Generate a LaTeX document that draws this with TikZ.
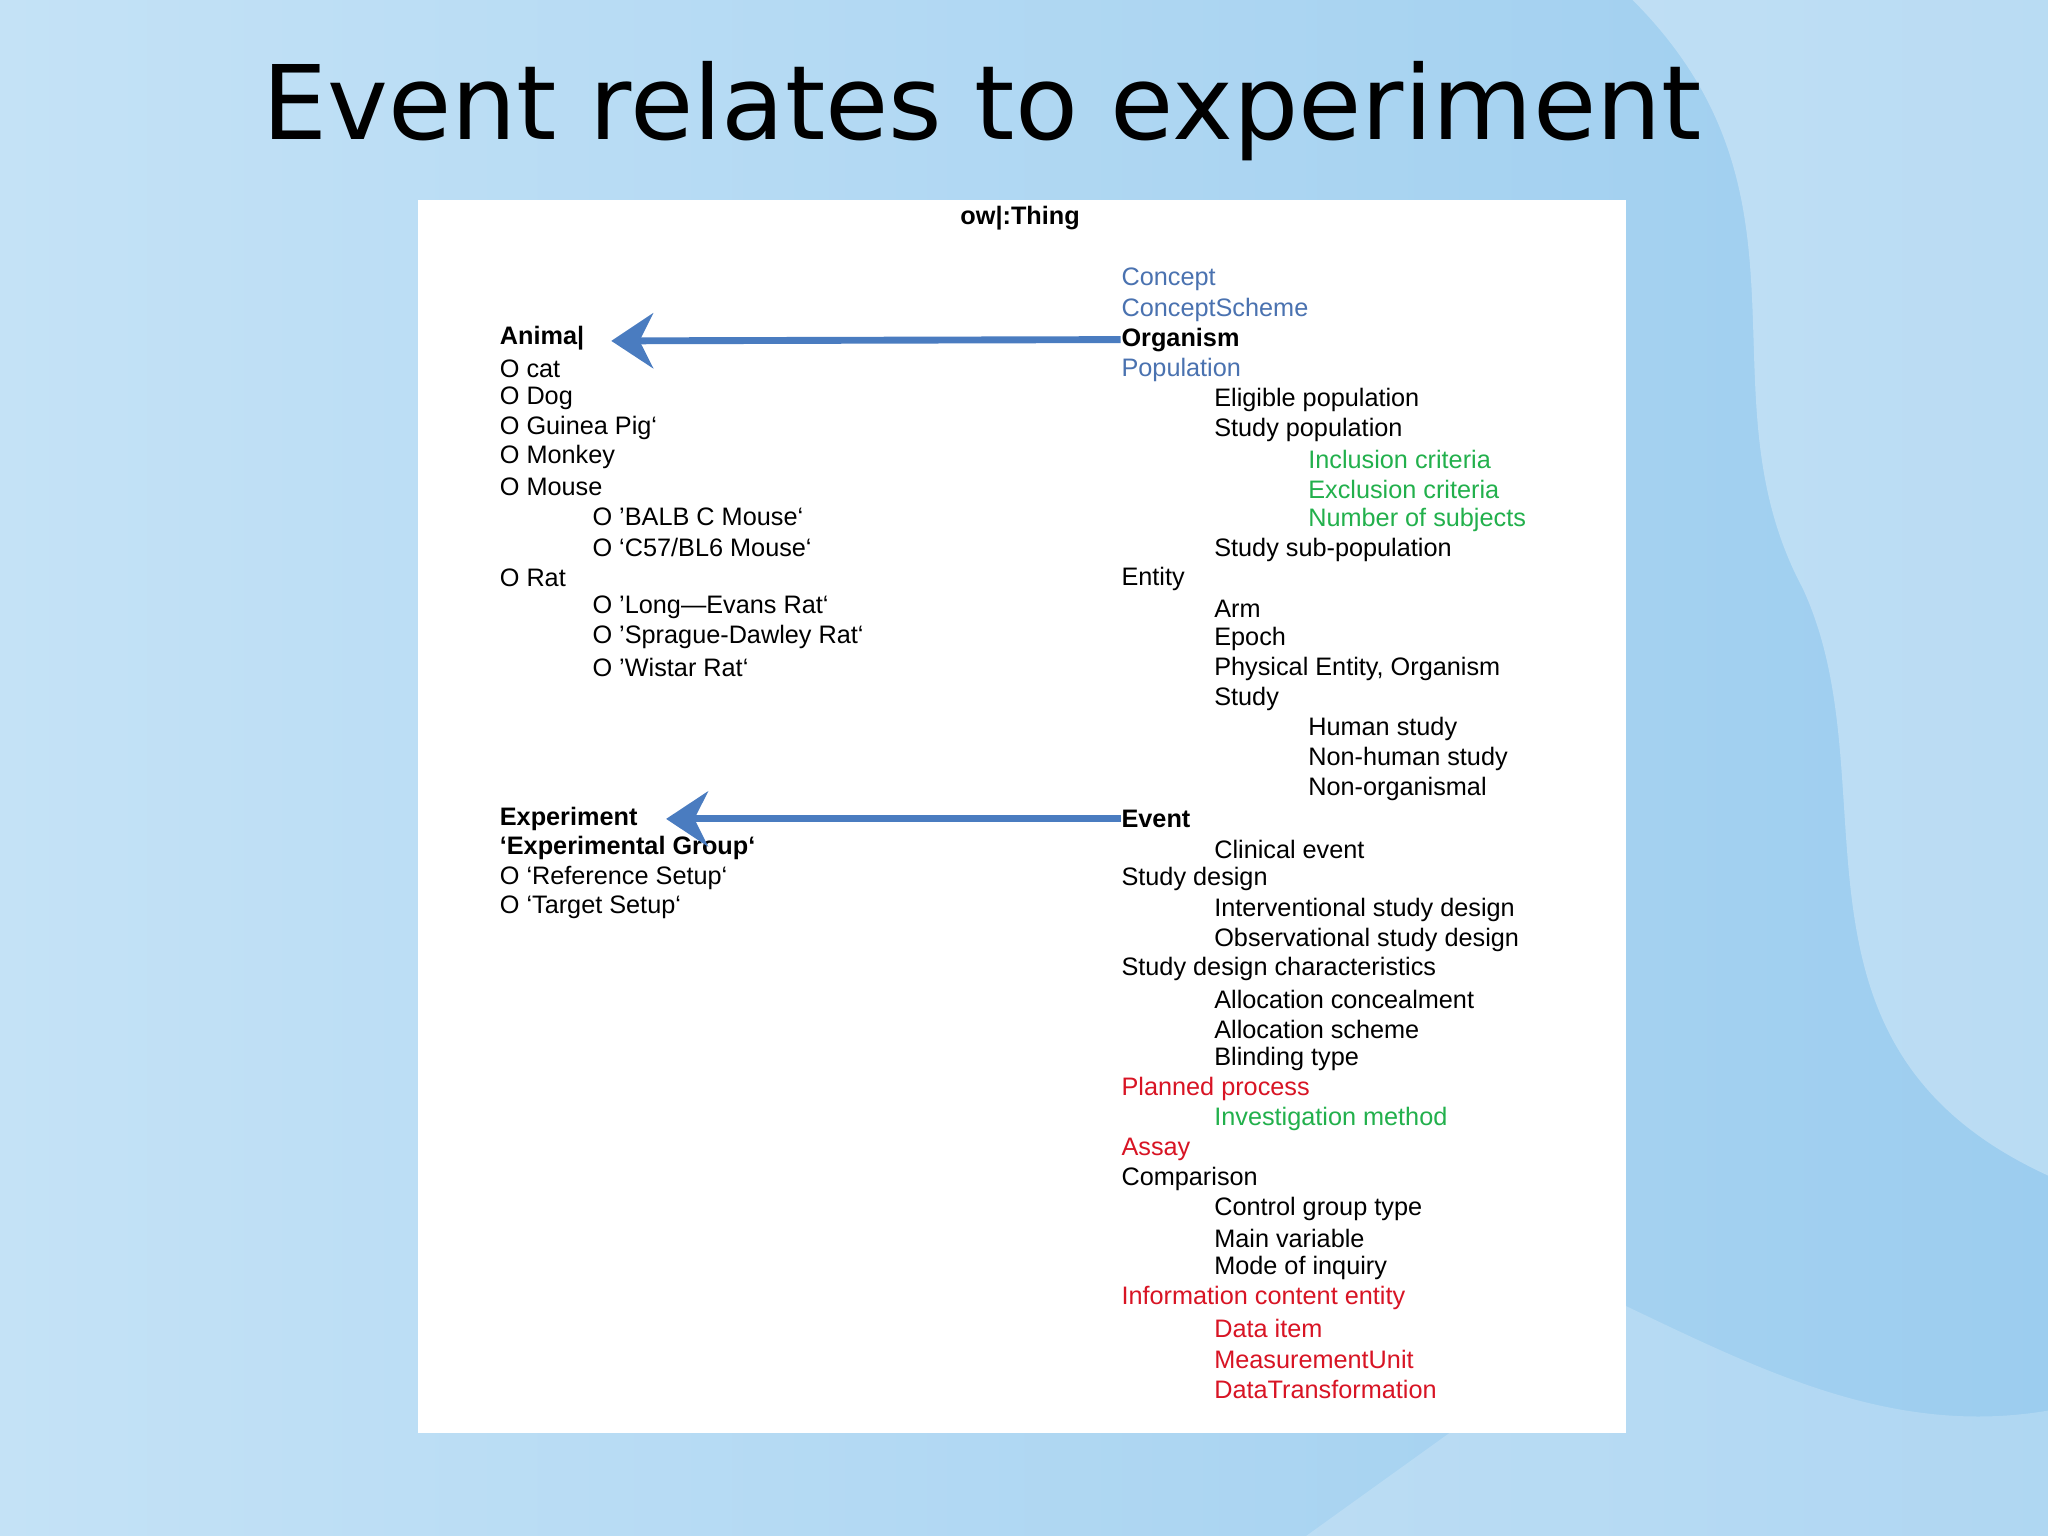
\documentclass[tikz,border=0pt]{standalone}
\usepackage{fontspec}
\setmainfont{Liberation Sans}
\newfontfamily\titlefont{DejaVu Sans}
\usetikzlibrary{arrows.meta}
\definecolor{bgA}{HTML}{C4E2F6}
\definecolor{bgB}{HTML}{9CCDEF}
\definecolor{blT}{HTML}{4A72B0}
\definecolor{grT}{HTML}{22B04C}
\definecolor{rdT}{HTML}{D81424}
\definecolor{arr}{HTML}{4A7CC0}
\begin{document}
\begin{tikzpicture}[x=0.01cm,y=-0.01cm,
  lt/.style={anchor=west,inner sep=0pt,font=\fontsize{5.5pt}{6pt}\selectfont},
  bl/.style={lt,text=blT},
  gr/.style={lt,text=grT},
  rd/.style={lt,text=rdT},
  bd/.style={lt,font=\fontsize{5.5pt}{6pt}\selectfont\bfseries},
  bigarrow/.style={draw=arr,line width=1.5pt,-{Stealth[length=0.32cm,width=0.42cm]}}]
\useasboundingbox (0,0) rectangle (1568,1176);
\shade[left color=bgA,right color=bgB] (0,0) rectangle (1568,1176);
\fill[white,opacity=0.3] (1250,0) .. controls (1400,150) and (1300,300) .. (1380,450) .. controls (1450,600) and (1350,800) .. (1568,900) -- (1568,0) -- cycle;
\fill[white,opacity=0.2] (1245,1000) .. controls (1350,1050) and (1450,1100) .. (1568,1080) -- (1568,1176) -- (1000,1176) -- cycle;
\node[font=\titlefont\fontsize{22.4pt}{26pt}\selectfont] (title) at (752,85) {Event relates to experiment};
\fill[white] (320,153) rectangle (1245,1097);
\node[inner sep=0pt,font=\fontsize{5.5pt}{6pt}\selectfont\bfseries] (thing) at (781,167) {ow|:Thing};
% right column
\node[bl] (c1) at (858,214) {Concept};
\node[bl] (c2) at (858,237) {ConceptScheme};
\node[bd] (org) at (858,260) {Organism};
\node[bl] (c4) at (858,283) {Population};
\node[lt] (c5) at (929,306) {Eligible population};
\node[lt] (c6) at (929,329) {Study population};
\node[gr] (c7) at (1001,352) {Inclusion criteria};
\node[gr] (c8) at (1001,375) {Exclusion criteria};
\node[gr] (c9) at (1001,398) {Number of subjects};
\node[lt] (c10) at (929,421) {Study sub-population};
\node[lt] (c11) at (858,443) {Entity};
\node[lt] (c12) at (929,466) {Arm};
\node[lt] (c13) at (929,489) {Epoch};
\node[lt] (c14) at (929,512) {Physical Entity, Organism};
\node[lt] (c15) at (929,535) {Study};
\node[lt] (c16) at (1001,558) {Human study};
\node[lt] (c17) at (1001,581) {Non-human study};
\node[lt] (c18) at (1001,604) {Non-organismal};
\node[bd] (ev) at (858,627) {Event};
\node[lt] (c20) at (929,650) {Clinical event};
\node[lt] (c21) at (858,673) {Study design};
\node[lt] (c22) at (929,697) {Interventional study design};
\node[lt] (c23) at (929,720) {Observational study design};
\node[lt] (c24) at (858,742) {Study design characteristics};
\node[lt] (c25) at (929,765) {Allocation concealment};
\node[lt] (c26) at (929,788) {Allocation scheme};
\node[lt] (c27) at (929,811) {Blinding type};
\node[rd] (c28) at (858,834) {Planned process};
\node[gr] (c29) at (929,857) {Investigation method};
\node[rd] (c30) at (858,880) {Assay};
\node[lt] (c31) at (858,903) {Comparison};
\node[lt] (c32) at (929,926) {Control group type};
\node[lt] (c33) at (929,948) {Main variable};
\node[lt] (c34) at (929,971) {Mode of inquiry};
\node[rd] (c35) at (858,994) {Information content entity};
\node[rd] (c36) at (929,1017) {Data item};
\node[rd] (c37) at (929,1041) {MeasurementUnit};
\node[rd] (c38) at (929,1064) {DataTransformation};
% left column
\node[bd] (ani) at (382,259) {Anima|};
\node[lt] (l1) at (382,282) {O cat};
\node[lt] (l2) at (382,305) {O Dog};
\node[lt] (l3) at (382,328) {O Guinea Pig‘};
\node[lt] (l4) at (382,350) {O Monkey};
\node[lt] (l5) at (382,373) {O Mouse};
\node[lt] (l6) at (453,396) {O 'BALB C Mouse‘};
\node[lt] (l7) at (453,419) {O ‘C57/BL6 Mouse‘};
\node[lt] (l8) at (382,442) {O Rat};
\node[lt] (l9) at (453,465) {O 'Long—Evans Rat‘};
\node[lt] (l10) at (453,488) {O 'Sprague-Dawley Rat‘};
\node[lt] (l11) at (453,511) {O 'Wistar Rat‘};
\node[bd] (exp) at (382,627) {Experiment};
\node[bd] (eg) at (382,649) {‘Experimental Group‘};
\node[lt] (l12) at (382,672) {O ‘Reference Setup‘};
\node[lt] (l13) at (382,695) {O ‘Target Setup‘};
\coordinate (tip1) at (468,261);
\coordinate (tip2) at (510,627);
\draw[bigarrow] (org.west) -- (tip1);
\draw[bigarrow] (ev.west) -- (tip2);
\end{tikzpicture}
\end{document}
